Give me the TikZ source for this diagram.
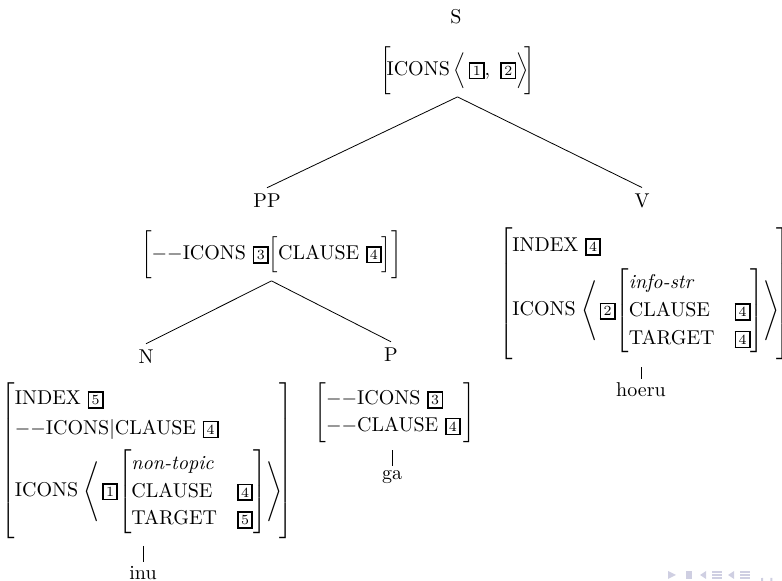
\documentclass[tikz,border=0pt]{standalone}
\usepackage{amsmath}
\newcommand{\tg}[1]{{\setlength\fboxsep{1.2pt}\setlength\fboxrule{0.8pt}\fbox{\scriptsize #1}}}
\newcommand{\mm}{{-}{-}}
\newcommand{\ft}[1]{\text{#1}}
\newcommand{\vsz}[1]{\rule[\dimexpr 2.5pt-#1/2\relax]{0pt}{#1}}
\newcommand{\instr}{\def\arraystretch{1.15}}
\renewcommand{\arraystretch}{1}
\delimiterfactor=1000
\delimitershortfall=0pt
\tikzset{
  lab/.style={inner sep=3pt},
  avmn/.style={inner sep=1pt},
  word/.style={inner sep=2pt},
  edge/.style={draw, line width=0.4pt},
  navsym/.style={fill=blue!25!gray!30, draw=none}
}
\begin{document}
\begin{tikzpicture}[x=0.5pt,y=-0.5pt]
\useasboundingbox (0,0) rectangle (782,581);
% S
\node[lab] (S) at (456,17) {S};
\node[avmn] (Sa) at (457.5,70.5) {$\biggl[\mkern-4mu\ft{ICONS}\,\Bigl\langle\,\tg{1},\ \tg{2}\Bigr\rangle\mkern-4mu\biggr]$};
% PP
\node[lab] (PP) at (267,201) {PP};
\node[avmn] (PPa) at (271.5,254.5) {$\biggl[\mm\ft{ICONS}\ \tg{3}\Bigl[\ft{CLAUSE}\ \tg{4}\Bigr]\biggr]$};
% V
\node[lab] (V) at (642,201) {V};
\node[avmn] (Va) at (644.5,294) {$\left[\vsz{62pt}\begin{array}{@{}l@{}}
  \ft{INDEX}\ \tg{4}\\[5pt]
  \ft{ICONS}\;{\left\langle\mkern2mu\tg{2}{\instr\left[\begin{array}{@{}ll@{}}
     \textit{info-str} & \\
     \ft{CLAUSE} & \tg{4}\\
     \ft{TARGET} & \tg{4}
  \end{array}\right]}\right\rangle}\mkern-3mu
\end{array}\right]$};
\node[word] (hoeru) at (641,390) {hoeru};
% N
\node[lab] (N) at (146,357) {N};
\node[avmn] (Na) at (147,460.5) {$\left[\vsz{73.5pt}\begin{array}{@{}l@{}}
  \ft{INDEX}\ \tg{5}\\[3pt]
  \mm\ft{ICONS}|\ft{CLAUSE}\ \tg{4}\\[4pt]
  \ft{ICONS}\;{\left\langle\mkern2mu\tg{1}{\instr\left[\begin{array}{@{}ll@{}}
     \textit{non-topic} & \\
     \ft{CLAUSE} & \tg{4}\\
     \ft{TARGET} & \tg{5}
  \end{array}\right]}\right\rangle}\mkern-3mu
\end{array}\right]$};
\node[word] (inu) at (143,573) {inu};
% P
\node[lab] (P) at (391,355) {P};
\node[avmn] (Pa) at (395,413) {$\left[\vsz{30pt}\begin{array}{@{}l@{\hspace{1.5pt}}}
  \mm\ft{ICONS}\ \tg{3}\\[1.5pt]
  \mm\ft{CLAUSE}\ \tg{4}
\end{array}\right]$};
\node[word] (ga) at (392,477) {ga};
% edges
\path[edge] (Sa.south) -- (PP.north);
\path[edge] (Sa.south) -- (V.north);
\path[edge] (PPa.south) -- (N.north);
\path[edge] (PPa.south) -- (P.north);
\path[edge, shorten <=2.5pt] (Va.south -| hoeru.north) -- (hoeru.north);
\path[edge, shorten <=2.5pt] (Na.south -| inu.north) -- (inu.north);
\path[edge, shorten <=2.5pt] (Pa.south -| ga.north) -- (ga.north);
% faint navigation symbols
\fill[navsym] (668,571) -- (676,575) -- (668,579) -- cycle;
\fill[navsym] (686,571) rectangle (692,579);
\fill[navsym] (700,575) -- (706,571) -- (706,579) -- cycle;
\fill[navsym] (712,571) rectangle (722,573);
\fill[navsym] (712,574) rectangle (722,576);
\fill[navsym] (712,577) rectangle (722,579);
\fill[navsym] (728,575) -- (734,571) -- (734,579) -- cycle;
\fill[navsym] (740,571) rectangle (750,573);
\fill[navsym] (740,574) rectangle (750,576);
\fill[navsym] (740,577) rectangle (750,579);
\draw[blue!25!gray!30, line width=1pt] (762,578) arc (200:-20:5);
\end{tikzpicture}
\end{document}
